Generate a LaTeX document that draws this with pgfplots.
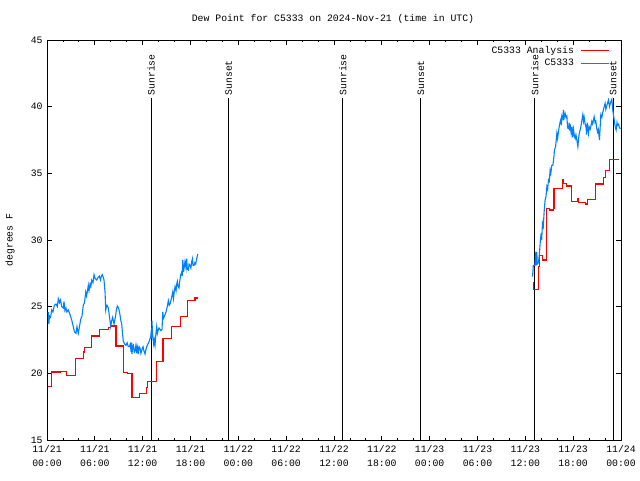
\documentclass[border=0pt]{standalone}
\usepackage{fontspec}
\setmainfont{Liberation Mono}
\usepackage{pgfplots}
\pgfplotsset{compat=1.18}
\definecolor{anared}{RGB}{255,0,0}
\definecolor{obsblue}{RGB}{0,128,255}
\begin{document}
\fontsize{9.8}{12}\selectfont
\begin{tikzpicture}
\useasboundingbox (0,0) rectangle (640pt,480pt);
\node at (333pt,461pt) {Dew Point for C5333 on 2024-Nov-21 (time in UTC)};
\node[rotate=90] at (10pt,240pt) {degrees F};
\begin{axis}[
 at={(47pt,40pt)}, anchor=south west,
 scale only axis, width=574pt, height=400pt,
 xmin=0, xmax=72, ymin=15, ymax=45,
 xtick={0,6,...,72},
 xticklabels={{11/21\\00:00},{11/21\\06:00},{11/21\\12:00},{11/21\\18:00},{11/22\\00:00},{11/22\\06:00},{11/22\\12:00},{11/22\\18:00},{11/23\\00:00},{11/23\\06:00},{11/23\\12:00},{11/23\\18:00},{11/24\\00:00}},
 xticklabel style={align=center, font=\fontsize{9.8}{14}\selectfont, yshift=-2pt},
 minor x tick num=2,
 ytick={15,20,25,30,35,40,45},
 yticklabels={15,20,25,30,35,40,45},
 yticklabel style={xshift=-1pt},
 tick align=inside,
 major tick length=4.5pt, minor tick length=2.5pt,
 tick style={black, line width=0.8pt},
 axis line style={line width=0.9pt},
 clip=false,
]
% vertical sunrise/sunset lines
\addplot[black, line width=0.9pt, forget plot] coordinates {(13.05,15) (13.05,40.65)};
\addplot[black, line width=0.9pt, forget plot] coordinates {(22.8,15) (22.8,40.65)};
\addplot[black, line width=0.9pt, forget plot] coordinates {(37.1,15) (37.1,40.65)};
\addplot[black, line width=0.9pt, forget plot] coordinates {(46.9,15) (46.9,40.65)};
\addplot[black, line width=0.9pt, forget plot] coordinates {(61.2,15) (61.2,40.65)};
\addplot[black, line width=0.9pt, forget plot] coordinates {(71.0,15) (71.0,40.65)};
\node[rotate=90, anchor=west, inner sep=1pt] at (axis cs:13.05,40.75) {Sunrise};
\node[rotate=90, anchor=west, inner sep=1pt] at (axis cs:22.8,40.75) {Sunset};
\node[rotate=90, anchor=west, inner sep=1pt] at (axis cs:37.1,40.75) {Sunrise};
\node[rotate=90, anchor=west, inner sep=1pt] at (axis cs:46.9,40.75) {Sunset};
\node[rotate=90, anchor=west, inner sep=1pt] at (axis cs:61.2,40.75) {Sunrise};
\node[rotate=90, anchor=west, inner sep=1pt] at (axis cs:71.0,40.75) {Sunset};
% analysis (red)
\addplot[color=anared, line width=1.1pt, const plot] coordinates {
(0.15,19.0) (0.6,20.1) (1.7,20.15) (2.45,19.85) (3.55,21.1) (4.6,21.6) (4.75,21.95) (5.56,22.8) (6.57,23.3) (7.7,23.45) (8.0,23.55) (8.66,22.05) (9.54,20.05) (10.1,19.97) (10.5,20.0) (10.66,18.2) (11.58,18.5) (12.46,18.95) (12.6,19.4) (13.68,20.87) (14.55,22.6) (15.6,23.5) (16.7,24.25) (17.6,25.45) (18.57,25.65) (18.9,25.7)
};
\addplot[color=obsblue, line width=1.1pt] coordinates {
(0.15,24.6) (0.23,23.7) (0.31,24.3) (0.45,24.2) (0.59,24.75) (0.75,24.6) (0.92,25.1) (1.13,25.2) (1.3,25.0) (1.42,25.6) (1.57,25.3) (1.69,25.5) (1.85,25.0) (2.05,24.9) (2.13,25.4) (2.25,24.7) (2.38,24.9) (2.5,24.6) (2.67,24.75) (2.89,24.4) (3.1,24.0) (3.3,23.5) (3.45,23.1) (3.64,23.0) (3.76,23.5) (3.85,23.2) (3.93,23.0) (4.1,23.6) (4.23,24.05) (4.39,24.3) (4.55,25.1) (4.7,25.3) (4.86,26.1) (4.96,25.8) (5.08,26.2) (5.18,26.6) (5.27,26.2) (5.4,26.7) (5.5,26.5) (5.61,27.0) (5.77,26.8) (5.9,27.4) (6.05,27.1) (6.24,27.0) (6.4,27.2) (6.56,27.3) (6.71,27.0) (6.82,27.3) (6.94,27.4) (7.05,27.2) (7.15,27.0) (7.28,26.1) (7.37,24.75) (7.45,25.0) (7.53,25.1) (7.69,24.9) (7.85,24.2) (7.99,23.5) (8.1,23.9) (8.24,24.2) (8.41,23.7) (8.5,24.0) (8.6,24.3) (8.72,24.8) (8.82,25.05) (8.97,24.9) (9.1,24.6) (9.25,24.0) (9.37,23.7) (9.47,23.0) (9.57,22.4) (9.75,22.2) (9.91,22.1) (10.05,22.3) (10.2,22.0) (10.33,22.0) (10.45,22.2) (10.55,21.6) (10.63,22.3) (10.66,21.45) (10.75,22.0) (10.83,22.1) (10.95,21.6) (11.04,21.7) (11.15,22.1) (11.25,21.5) (11.33,22.0) (11.4,21.8) (11.46,21.45) (11.55,22.0) (11.67,21.9) (11.78,21.5) (11.88,21.7) (11.97,21.9) (12.05,22.0) (12.15,21.7) (12.3,21.45) (12.45,21.9) (12.58,22.1) (12.75,22.3) (12.92,22.6) (13.0,22.7) (13.05,23.0) (13.12,22.8) (13.17,23.95) (13.24,22.9) (13.3,22.7) (13.38,22.2) (13.46,22.5) (13.55,22.1) (13.65,22.9) (13.76,23.5) (13.85,23.0) (13.93,23.2) (14.05,23.4) (14.18,23.3) (14.3,23.2) (14.43,23.3) (14.52,24.6) (14.6,24.1) (14.68,24.2) (14.8,24.4) (14.93,24.6) (15.08,25.0) (15.22,25.45) (15.33,25.1) (15.43,25.2) (15.6,25.6) (15.77,26.1) (15.87,25.6) (15.96,26.1) (16.06,26.5) (16.19,26.2) (16.27,26.7) (16.35,26.9) (16.45,26.5) (16.56,26.4) (16.67,27.0) (16.78,27.4) (16.9,27.6) (16.97,27.3) (17.03,28.5) (17.13,27.6) (17.22,28.0) (17.31,28.4) (17.44,27.9) (17.52,28.6) (17.6,27.8) (17.73,27.75) (17.82,28.2) (17.94,28.1) (18.05,27.9) (18.16,28.4) (18.25,28.6) (18.32,28.1) (18.44,28.1) (18.55,28.3) (18.65,28.2) (18.78,28.6) (18.91,28.95)
};
\addplot[color=anared, line width=1.1pt, const plot] coordinates {
(60.9,26.8) (61.0,26.3) (61.68,28.0) (61.75,28.87) (62.15,28.5) (62.7,32.38) (63.0,32.25) (63.5,32.4) (63.6,33.88) (64.7,34.5) (64.8,34.25) (65.2,34.05) (65.75,32.9) (66.5,33.1) (66.7,32.8) (67.5,32.7) (67.8,33.05) (68.6,33.05) (68.8,34.2) (69.7,34.2) (69.8,34.7) (70.0,35.2) (70.6,36.05) (71.7,36.05)
};
\addplot[color=obsblue, line width=1.1pt] coordinates {
(60.89,27.25) (60.95,27.6) (61.0,28.1) (61.2,28.1) (61.32,29.12) (61.36,28.1) (61.44,29.1) (61.5,28.2) (61.65,28.3) (61.77,29.0) (61.86,29.75) (61.98,30.5) (62.05,30.0) (62.15,31.25) (62.25,31.0) (62.36,32.12) (62.48,33.0) (62.6,33.3) (62.7,34.0) (62.8,33.8) (62.9,34.5) (63.0,34.4) (63.11,35.25) (63.2,35.0) (63.32,35.6) (63.45,35.6) (63.52,35.9) (63.6,36.3) (63.65,36.75) (63.8,37.0) (63.95,38.0) (64.05,37.6) (64.15,38.1) (64.25,38.5) (64.37,38.87) (64.48,39.1) (64.52,38.6) (64.58,39.3) (64.7,39.1) (64.78,39.75) (64.83,39.0) (64.9,39.3) (64.99,39.5) (65.1,39.2) (65.21,39.3) (65.3,38.4) (65.41,38.37) (65.5,38.8) (65.55,38.2) (65.62,38.7) (65.75,38.0) (65.85,38.5) (65.95,37.7) (66.04,38.3) (66.15,37.8) (66.25,37.6) (66.35,37.9) (66.46,37.5) (66.59,37.0) (66.7,37.7) (66.79,38.1) (66.9,38.3) (67.0,38.6) (67.1,39.0) (67.21,39.4) (67.3,38.9) (67.38,39.2) (67.5,38.7) (67.63,38.4) (67.68,37.9) (67.75,38.8) (67.92,38.0) (68.0,38.5) (68.13,38.3) (68.25,38.6) (68.34,38.9) (68.45,38.7) (68.63,39.25) (68.75,38.8) (68.85,38.9) (68.95,38.4) (69.05,38.1) (69.15,38.3) (69.3,37.5) (69.38,38.4) (69.47,39.4) (69.6,39.2) (69.72,39.6) (69.85,39.9) (70.01,40.25) (70.1,39.8) (70.23,40.1) (70.33,40.3) (70.43,40.5) (70.55,40.0) (70.64,40.2) (70.75,40.4) (70.85,40.55) (70.97,39.75) (71.1,39.2) (71.27,38.5) (71.39,38.25) (71.5,38.8) (71.56,38.6) (71.7,38.7) (71.81,38.4) (71.98,38.37)
};
% legend (gnuplot style: text right-aligned, sample on the right)
\node[anchor=base east, inner sep=0pt] at (axis cs:66.12,43.98) {C5333 Analysis};
\draw[anared, line width=1.1pt] (axis cs:67.0,44.2) -- (axis cs:70.52,44.2);
\node[anchor=base east, inner sep=0pt] at (axis cs:66.12,43.05) {C5333};
\draw[obsblue, line width=1.1pt] (axis cs:67.0,43.27) -- (axis cs:70.52,43.27);
\end{axis}
\end{tikzpicture}
\end{document}
